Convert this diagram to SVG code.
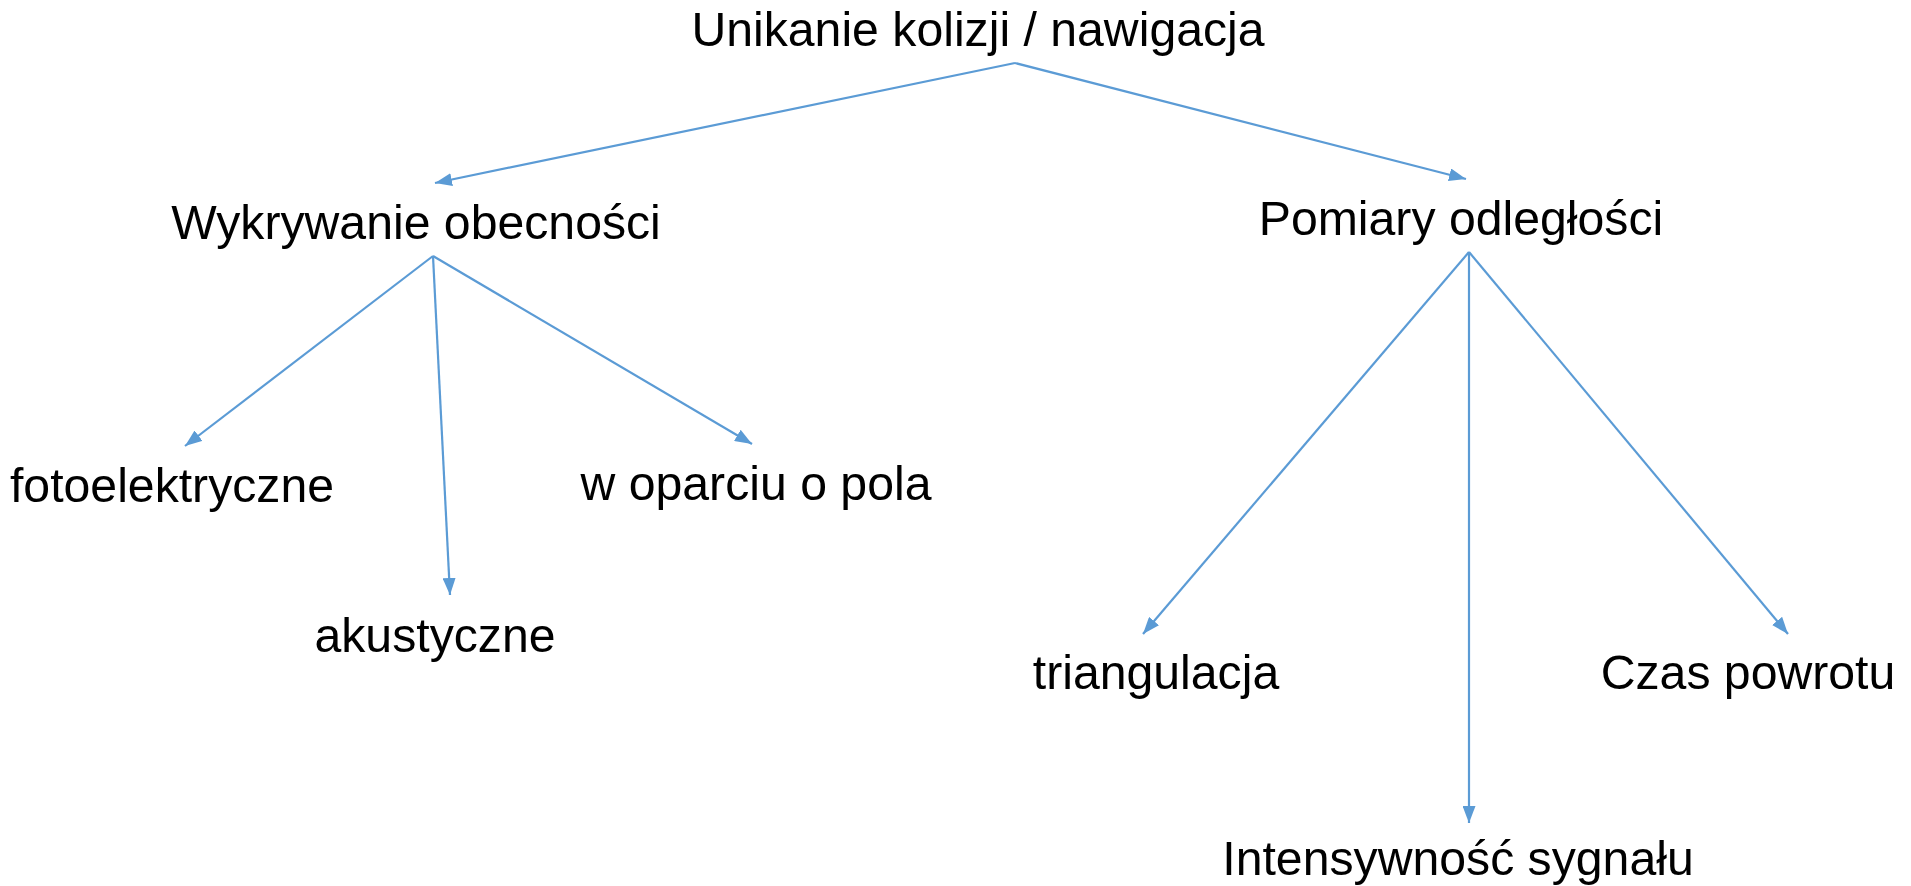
<svg xmlns="http://www.w3.org/2000/svg" width="1911" height="886" viewBox="0 0 1911 886">
<style>
.t{font-family:"Liberation Sans",Arial,sans-serif;font-size:48.2px;fill:#000;text-anchor:middle}
.c{stroke:#5B9BD5;stroke-width:2.2;fill:none;marker-end:url(#ah)}
</style>
<defs>
<marker id="ah" markerUnits="userSpaceOnUse" markerWidth="17" markerHeight="13" viewBox="0 0 17 13" refX="17" refY="6.5" orient="auto">
<path d="M0,0 L17,6.5 L0,13 z" fill="#5B9BD5"/>
</marker>
</defs>
<rect width="1911" height="886" fill="#fff"/>
<g id="connectors">
<path class="c" d="M1015,63 L435,183"/>
<path class="c" d="M1015,63 L1466,179"/>
<path class="c" d="M433,256 L185,446"/>
<path class="c" d="M433,256 L450,595"/>
<path class="c" d="M433,256 L752,444"/>
<path class="c" d="M1469,252 L1143,634"/>
<path class="c" d="M1469,252 L1469,823"/>
<path class="c" d="M1469,252 L1788,634"/>
</g>
<g id="n-root"><text class="t" x="978" y="46">Unikanie kolizji / nawigacja</text></g>
<g id="n-wykrywanie"><text class="t" x="416" y="239">Wykrywanie obecności</text></g>
<g id="n-pomiary"><text class="t" x="1461" y="235">Pomiary odległości</text></g>
<g id="n-foto"><text class="t" x="172" y="502">fotoelektryczne</text></g>
<g id="n-akust"><text class="t" x="435" y="652">akustyczne</text></g>
<g id="n-pola"><text class="t" x="756" y="500">w oparciu o pola</text></g>
<g id="n-triang"><text class="t" x="1156" y="689">triangulacja</text></g>
<g id="n-czas"><text class="t" x="1748" y="689">Czas powrotu</text></g>
<g id="n-intens"><text class="t" x="1458" y="875">Intensywność sygnału</text></g>
</svg>
